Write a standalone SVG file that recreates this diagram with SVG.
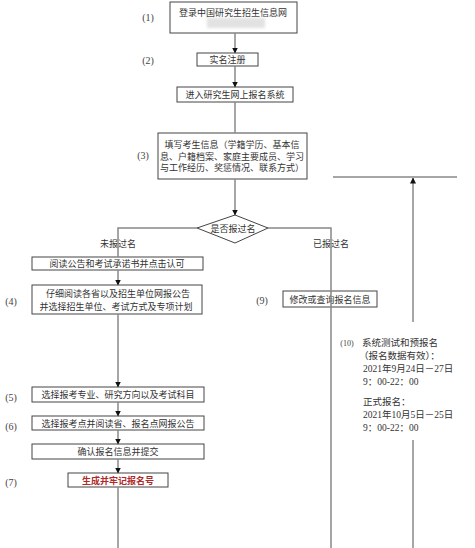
<svg xmlns="http://www.w3.org/2000/svg" width="475" height="548" viewBox="0 0 475 548">
<defs>
<marker id="arr" markerWidth="6" markerHeight="6" refX="5.5" refY="3" orient="auto" markerUnits="userSpaceOnUse">
<path d="M0,0 L6,3 L0,6 z" fill="#111"/>
</marker>
<filter id="blur" x="-20%" y="-50%" width="140%" height="200%"><feGaussianBlur stdDeviation="1.5"/></filter>
<style>
.box{fill:none;stroke:#444;stroke-width:1}
.t{font-family:"Noto Sans CJK SC","Noto Sans",sans-serif;font-size:9px;fill:#333;text-anchor:middle;dominant-baseline:central}
.lbl{font-family:"Liberation Serif","Noto Sans CJK SC",serif;font-size:10px;fill:#444;text-anchor:middle;dominant-baseline:central}
.side{font-family:"Liberation Serif","Noto Sans CJK SC",serif;font-size:9.5px;fill:#333;dominant-baseline:central}
.red{font-family:"Noto Sans CJK SC",sans-serif;font-size:9px;font-weight:bold;fill:#b02a2a;text-anchor:middle;dominant-baseline:central}
.c{fill:none;stroke:#888;stroke-width:1.5}
.ca{fill:none;stroke:#888;stroke-width:1.5;marker-end:url(#arr)}
</style>
</defs>
<rect width="475" height="548" fill="#fff"/>

<g id="n1">
<rect class="box" x="170" y="2" width="127" height="31"/>
<text class="t" x="233" y="12">登录中国研究生招生信息网</text>
<rect x="207" y="18" width="58" height="10" fill="#e2e2e2" filter="url(#blur)"/>
<text class="lbl" x="148" y="17">(1)</text>
</g>
<g id="n2">
<rect class="box" x="197" y="53" width="61" height="13"/>
<text class="t" x="227.5" y="59.5">实名注册</text>
<text class="lbl" x="148" y="60">(2)</text>
</g>
<g id="n3">
<rect class="box" x="177" y="87" width="116" height="15"/>
<text class="t" x="235" y="94.5">进入研究生网上报名系统</text>
</g>
<g id="n4">
<rect class="box" x="158" y="133" width="149" height="46"/>
<text class="t" x="232" y="144.5">填写考生信息（学籍学历、基本信</text>
<text class="t" x="232" y="156">息、户籍档案、家庭主要成员、学习</text>
<text class="t" x="232" y="167.5">与工作经历、奖惩情况、联系方式）</text>
<text class="lbl" x="143" y="155">(3)</text>
</g>
<g id="d1">
<polygon class="box" points="235,215 268,228 235,243 197,228"/>
<text class="t" x="233" y="228">是否报过名</text>
</g>
<g id="l1">
<text class="t" x="118" y="243">未报过名</text>
</g>
<g id="l2">
<text class="t" x="331" y="243">已报过名</text>
</g>
<g id="n5">
<rect class="box" x="32" y="257" width="171" height="13"/>
<text class="t" x="117" y="263.5">阅读公告和考试承诺书并点击认可</text>
</g>
<g id="n6">
<rect class="box" x="32" y="285" width="170" height="29"/>
<text class="t" x="118" y="293">仔细阅读各省以及招生单位网报公告</text>
<text class="t" x="116" y="306.5">并选择招生单位、考试方式及专项计划</text>
<text class="lbl" x="11" y="301">(4)</text>
</g>
<g id="n7">
<rect class="box" x="32" y="387" width="172" height="15"/>
<text class="t" x="118" y="394.5">选择报考专业、研究方向以及考试科目</text>
<text class="lbl" x="11" y="397">(5)</text>
</g>
<g id="n8">
<rect class="box" x="32" y="416" width="172" height="14"/>
<text class="t" x="118" y="423">选择报考点并阅读省、报名点网报公告</text>
<text class="lbl" x="11" y="426">(6)</text>
</g>
<g id="n9">
<rect class="box" x="32" y="444" width="172" height="15"/>
<text class="t" x="118" y="451.5">确认报名信息并提交</text>
</g>
<g id="n10">
<rect class="box" x="68" y="473" width="100" height="14"/>
<text class="red" x="118" y="480">生成并牢记报名号</text>
<text class="lbl" x="11" y="482">(7)</text>
</g>
<g id="n11">
<rect class="box" x="283" y="291" width="94" height="16"/>
<text class="t" x="330" y="299">修改或查询报名信息</text>
<text class="lbl" x="262" y="300">(9)</text>
</g>
<g id="n12">
<text class="lbl" x="347" y="343" style="font-size:8px">(10)</text>
<text class="side" x="362" y="343">系统测试和预报名</text>
<text class="side" x="359" y="356">（报名数据有效）：</text>
<text class="side" x="363" y="369">2021年9月24日－27日</text>
<text class="side" x="363" y="382">9：00-22：00</text>
<text class="side" x="363" y="402">正式报名：</text>
<text class="side" x="363" y="415">2021年10月5日－25日</text>
<text class="side" x="363" y="428">9：00-22：00</text>
</g>

<g id="connectors">
<line class="ca" x1="235" y1="33" x2="235" y2="53"/>
<line class="ca" x1="235" y1="66" x2="235" y2="87"/>
<line class="c" x1="235" y1="102" x2="235" y2="133"/>
<line class="ca" x1="235" y1="179" x2="235" y2="215"/>
<polyline class="c" points="197,228 118,228 118,257"/>
<polyline class="c" points="268,228 331,228 331,548"/>
<line class="ca" x1="118" y1="270" x2="118" y2="285"/>
<line class="ca" x1="118" y1="314" x2="118" y2="387"/>
<line class="ca" x1="118" y1="402" x2="118" y2="416"/>
<line class="ca" x1="118" y1="430" x2="118" y2="444"/>
<line class="ca" x1="118" y1="459" x2="118" y2="473"/>
<line class="c" x1="118" y1="487" x2="118" y2="548"/>
<line class="c" x1="413" y1="548" x2="413" y2="440"/>
<line class="ca" x1="413" y1="322" x2="413" y2="178"/>
<line class="c" x1="333" y1="177" x2="457" y2="177"/>
</g>
</svg>
